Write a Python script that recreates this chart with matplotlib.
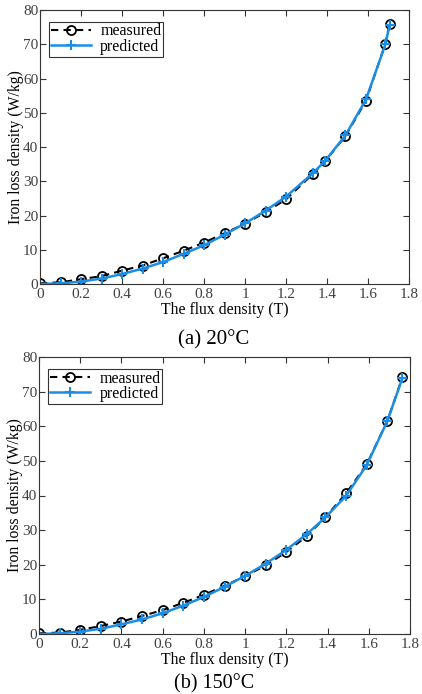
import matplotlib
matplotlib.use("Agg")
import matplotlib.pyplot as plt

plt.rcParams['font.family'] = ['Liberation Serif', 'DejaVu Serif']
plt.rcParams['mathtext.fontset'] = 'stix'

# ---- data: (a) 20°C ----
b_meas_a = [0, 0.1, 0.2, 0.3, 0.4, 0.5, 0.6, 0.7, 0.8, 0.9, 1.0, 1.1, 1.2, 1.33, 1.39, 1.49, 1.59, 1.685, 1.705]
p_meas_a = [0.2, 0.5, 1.4, 2.3, 3.9, 5.4, 7.5, 9.7, 12.1, 14.8, 17.6, 21.0, 24.7, 32.1, 35.8, 43.2, 53.5, 70.2, 75.9]
b_pred_a = b_meas_a
p_pred_a = [0.0, 0.2, 0.7, 1.6, 2.9, 4.5, 6.4, 8.8, 11.3, 14.4, 17.7, 21.4, 25.5, 32.3, 35.9, 43.4, 53.9, 70.0, 75.6]

# ---- data: (b) 150°C ----
b_meas_b = [0, 0.1, 0.2, 0.3, 0.4, 0.5, 0.6, 0.7, 0.8, 0.9, 1.0, 1.1, 1.2, 1.3, 1.39, 1.49, 1.59, 1.69, 1.763]
p_meas_b = [0.2, 0.4, 1.2, 2.3, 3.6, 5.2, 6.9, 9.0, 11.3, 13.9, 16.7, 19.8, 23.7, 28.3, 33.8, 40.6, 49.0, 61.5, 74.1]
b_pred_b = b_meas_b
p_pred_b = [0.0, 0.2, 0.7, 1.5, 2.8, 4.2, 6.0, 8.2, 10.7, 13.6, 16.8, 20.3, 24.3, 28.9, 33.7, 39.9, 48.8, 61.5, 73.9]

x_ticks = [0, 0.2, 0.4, 0.6, 0.8, 1.0, 1.2, 1.4, 1.6, 1.8]
x_tick_labels = ['0', '0.2', '0.4', '0.6', '0.8', '1', '1.2', '1.4', '1.6', '1.8']
y_ticks = [0, 10, 20, 30, 40, 50, 60, 70, 80]
captions = ['(a) 20°C', '(b) 150°C']
blue = '#1a8ee6'
tick_gray = '#404040'

W, H = 422, 694
fig = plt.figure(figsize=(W / 100, H / 100), dpi=100)

def px_axes(l, t, r, b):
    return fig.add_axes([l / W, 1 - b / H, (r - l) / W, (b - t) / H])

ax1 = px_axes(40, 10, 409, 284)
ax2 = px_axes(39, 357, 410, 634)

datasets = [
    (ax1, b_meas_a, p_meas_a, b_pred_a, p_pred_a),
    (ax2, b_meas_b, p_meas_b, b_pred_b, p_pred_b),
]

for ax, bm, pm, bp, pp in datasets:
    ax.plot(bm, pm, linestyle=(0, (3.5, 2.5)), color='black', linewidth=1.5,
            marker='o', markersize=6.5, markerfacecolor='none',
            markeredgecolor='black', markeredgewidth=1.3, label='measured')
    ax.plot(bp, pp, linestyle='-', color=blue, linewidth=1.8,
            marker='+', markersize=7, markeredgewidth=1.5,
            markeredgecolor=blue, label='predicted')
    ax.set_xlim(0, 1.8)
    ax.set_ylim(0, 80)
    ax.set_xticks(x_ticks)
    ax.set_xticklabels(x_tick_labels)
    ax.set_yticks(y_ticks)
    ax.tick_params(direction='in', top=True, right=True, length=4, width=0.8,
                   labelsize=11, colors='#333333', labelcolor=tick_gray)
    ax.tick_params(axis='x', pad=3)
    ax.tick_params(axis='y', pad=1.2)
    for sp in ax.spines.values():
        sp.set_color('#333333')
        sp.set_linewidth(0.8)
    ax.set_xlabel('The flux density (T)', fontsize=11.3, labelpad=0.5)
    ax.set_ylabel('Iron loss density (W/kg)', fontsize=11.3, labelpad=-0.5)
    leg = ax.legend(loc='upper left', bbox_to_anchor=(0.024, 0.958), fontsize=11.5,
                    frameon=True, fancybox=False, edgecolor='black',
                    handlelength=2.5, handletextpad=0.6, borderpad=0.12,
                    labelspacing=-0.05, borderaxespad=0)
    leg.get_frame().set_linewidth(0.8)

fig.text(0.507, 1 - 340 / H, captions[0], ha='center', va='center', fontsize=15)
fig.text(0.507, 1 - 684 / H, captions[1], ha='center', va='center', fontsize=14.5)

fig.savefig('out.png', dpi=100)
